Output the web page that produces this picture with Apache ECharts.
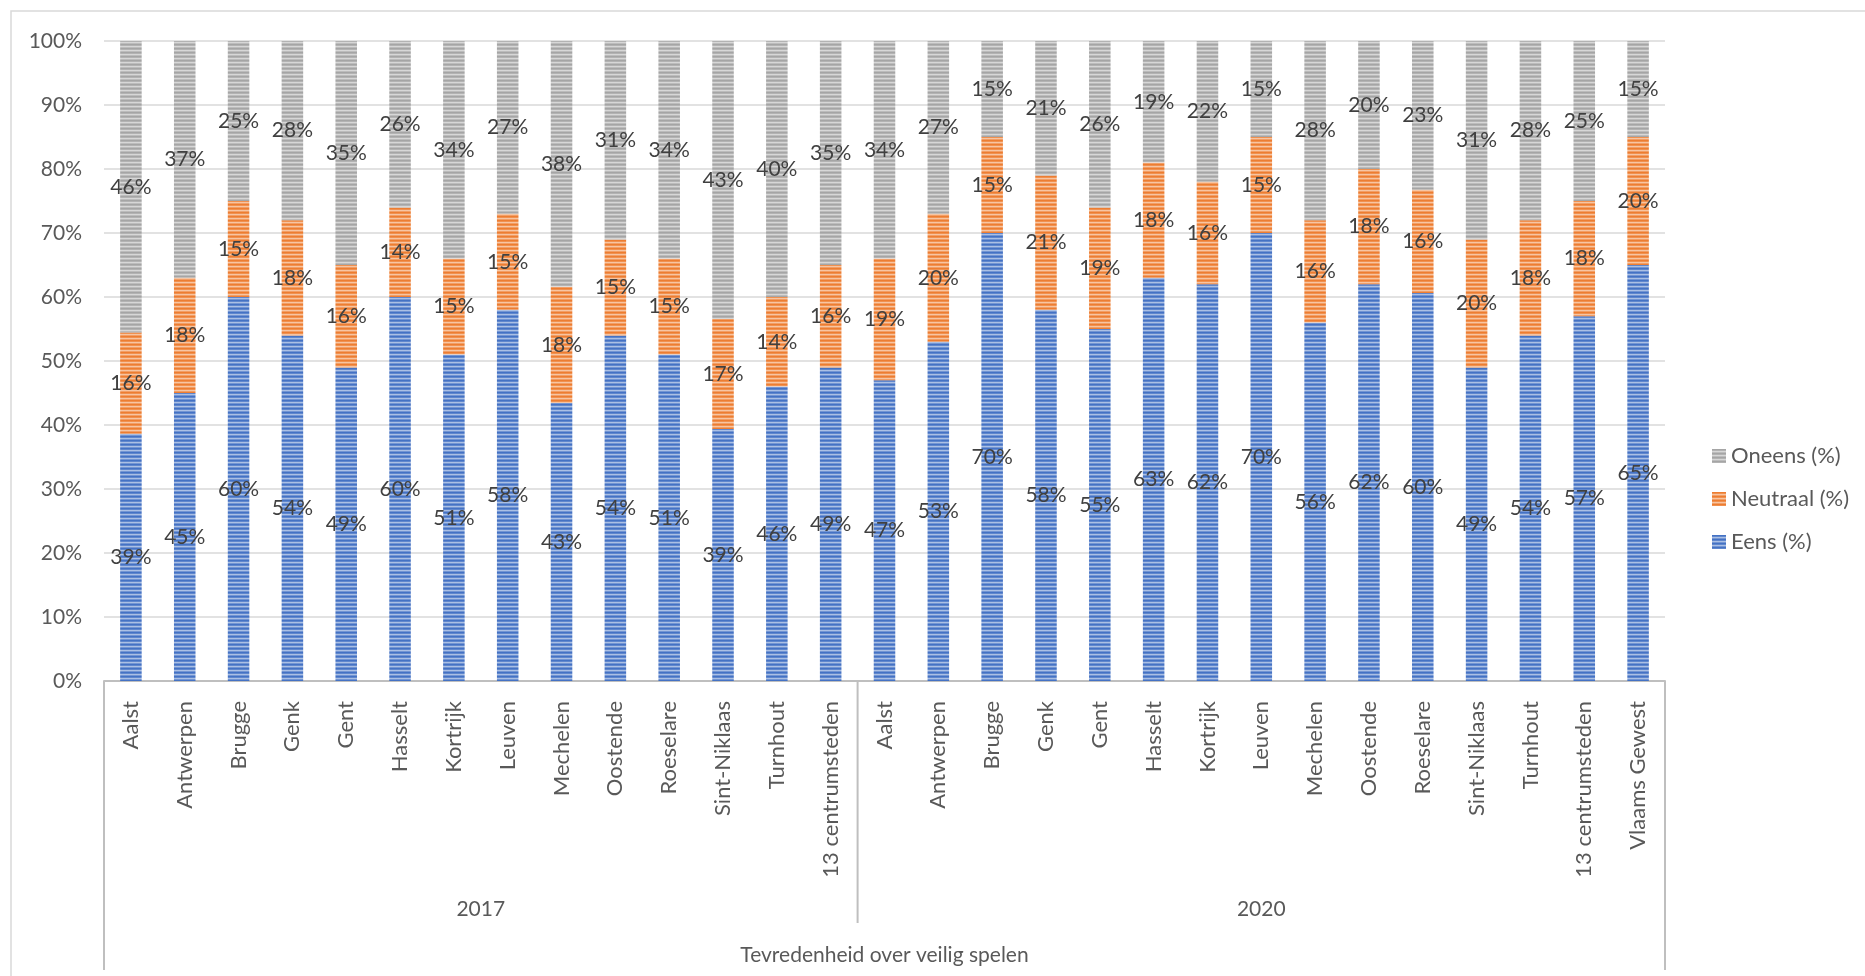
<!DOCTYPE html>
<html><head><meta charset="utf-8">
<script src="https://cdn.jsdelivr.net/npm/echarts@6/dist/echarts.min.js"></script>
<style>html,body{margin:0;padding:0;background:#fff;}#c{width:1865px;height:976px;}</style>
</head><body><div id="c"></div>
<script>
// ---- data ----
const years = ['2017', '2020'];
const cities2017 = ['Aalst','Antwerpen','Brugge','Genk','Gent','Hasselt','Kortrijk','Leuven','Mechelen','Oostende','Roeselare','Sint-Niklaas','Turnhout','13 centrumsteden'];
const cities2020 = ['Aalst','Antwerpen','Brugge','Genk','Gent','Hasselt','Kortrijk','Leuven','Mechelen','Oostende','Roeselare','Sint-Niklaas','Turnhout','13 centrumsteden','Vlaams Gewest'];
const eens2017     = [39,45,60,54,49,60,51,58,43,54,51,39,46,49];
const neutraal2017 = [16,18,15,18,16,14,15,15,18,15,15,17,14,16];
const oneens2017   = [46,37,25,28,35,26,34,27,38,31,34,43,40,35];
const eens2020     = [47,53,70,58,55,63,62,70,56,62,60,49,54,57,65];
const neutraal2020 = [19,20,15,21,19,18,16,15,16,18,16,20,18,18,20];
const oneens2020   = [34,27,15,21,26,19,22,15,28,20,23,31,28,25,15];
const seriesNames = ['Eens (%)', 'Neutraal (%)', 'Oneens (%)'];
const yTicks = [0,10,20,30,40,50,60,70,80,90,100];
const axisTitle = 'Tevredenheid over veilig spelen';

// ---- build ----
const categories = cities2017.concat(cities2020);
const raw = [eens2017.concat(eens2020), neutraal2017.concat(neutraal2020), oneens2017.concat(oneens2020)];
const totals = categories.map((_, i) => raw[0][i] + raw[1][i] + raw[2][i]);

function blend(hex, t) {
  const n = parseInt(hex.slice(1), 16);
  const r = n >> 16, g = (n >> 8) & 255, b = n & 255;
  const f = c => Math.round(c + (255 - c) * t);
  return 'rgb(' + f(r) + ',' + f(g) + ',' + f(b) + ')';
}
function stripes(hex) {
  const cv = document.createElement('canvas');
  cv.width = 4; cv.height = 4;
  const ctx = cv.getContext('2d');
  const rows = [blend(hex, 0), blend(hex, 0.15), blend(hex, 0.55), blend(hex, 0.25)];
  rows.forEach((c, i) => { ctx.fillStyle = c; ctx.fillRect(0, i, 4, 1); });
  return { image: cv, repeat: 'repeat' };
}
const baseColors = ['#4472C4', '#ED7D31', '#A5A5A5'];
const FONT = 'Lato';
const chart = echarts.init(document.getElementById('c'), null, { renderer: 'canvas' });

const series = seriesNames.map((name, s) => ({
  name, type: 'bar', stack: 'total', barWidth: '40%',
  itemStyle: { color: stripes(baseColors[s]) },
  label: {
    show: true, position: 'inside', color: '#404040', fontFamily: FONT, fontSize: 21,
    formatter: p => raw[s][p.dataIndex] + '%'
  },
  data: categories.map((_, i) => raw[s][i] / totals[i] * 100)
}));

chart.setOption({
  animation: false,
  backgroundColor: '#fff',
  grid: { left: 104, right: 200, top: 41, bottom: 295, containLabel: false },
  legend: {
    orient: 'vertical', left: 1707, top: 440,
    data: ['Oneens (%)', 'Neutraal (%)', 'Eens (%)'],
    itemWidth: 14, itemHeight: 14, itemGap: 21,
    textStyle: { fontFamily: FONT, fontSize: 22, color: '#595959', lineHeight: 21 },
    icon: 'rect'
  },
  xAxis: {
    type: 'category', data: categories,
    axisLine: { lineStyle: { color: '#BFBFBF', width: 2 } },
    axisTick: { show: false },
    axisLabel: { rotate: 90, margin: 20, interval: 0, color: '#595959', fontFamily: FONT, fontSize: 22 }
  },
  yAxis: {
    type: 'value', min: 0, max: 100, interval: 10,
    axisLine: { show: false }, axisTick: { show: false },
    splitLine: { lineStyle: { color: '#D9D9D9', width: 1.5 } },
    axisLabel: { margin: 22, color: '#595959', fontFamily: FONT, fontSize: 21,
      formatter: v => (yTicks.indexOf(v) >= 0 ? v + '%' : '') }
  },
  series
});

// multi-level axis decoration, placed from the axis scale
const c0 = chart.convertToPixel({ xAxisIndex: 0 }, 0);
const c1 = chart.convertToPixel({ xAxisIndex: 0 }, 1);
const bw = c1 - c0;
const n17 = cities2017.length;
const xLeft = c0 - bw / 2;
const xDiv = chart.convertToPixel({ xAxisIndex: 0 }, n17) - bw / 2;
const xRight = chart.convertToPixel({ xAxisIndex: 0 }, categories.length - 1) + bw / 2;
const y0 = chart.convertToPixel({ yAxisIndex: 0 }, 0);
const lineStyle = { stroke: '#BFBFBF', lineWidth: 2 };
const txt = (x, y, t) => ({ type: 'text', x, y, style: { text: t, fill: '#595959', font: '21px ' + FONT, textAlign: 'center', textVerticalAlign: 'middle' } });
chart.setOption({
  graphic: [
    { type: 'rect', shape: { x: 11, y: 11, width: 1900, height: 1000 }, style: { fill: 'none', stroke: '#D9D9D9', lineWidth: 1.5 }, z: -1 },
    { type: 'line', shape: { x1: xLeft, y1: y0, x2: xLeft, y2: y0 + 289 }, style: lineStyle },
    { type: 'line', shape: { x1: xDiv, y1: y0, x2: xDiv, y2: y0 + 242 }, style: lineStyle },
    { type: 'line', shape: { x1: xRight, y1: y0, x2: xRight, y2: y0 + 289 }, style: lineStyle },
    txt((xLeft + xDiv) / 2, y0 + 228, years[0]),
    txt((xDiv + xRight) / 2, y0 + 228, years[1]),
    txt((xLeft + xRight) / 2, y0 + 274, axisTitle)
  ]
});
</script></body></html>
